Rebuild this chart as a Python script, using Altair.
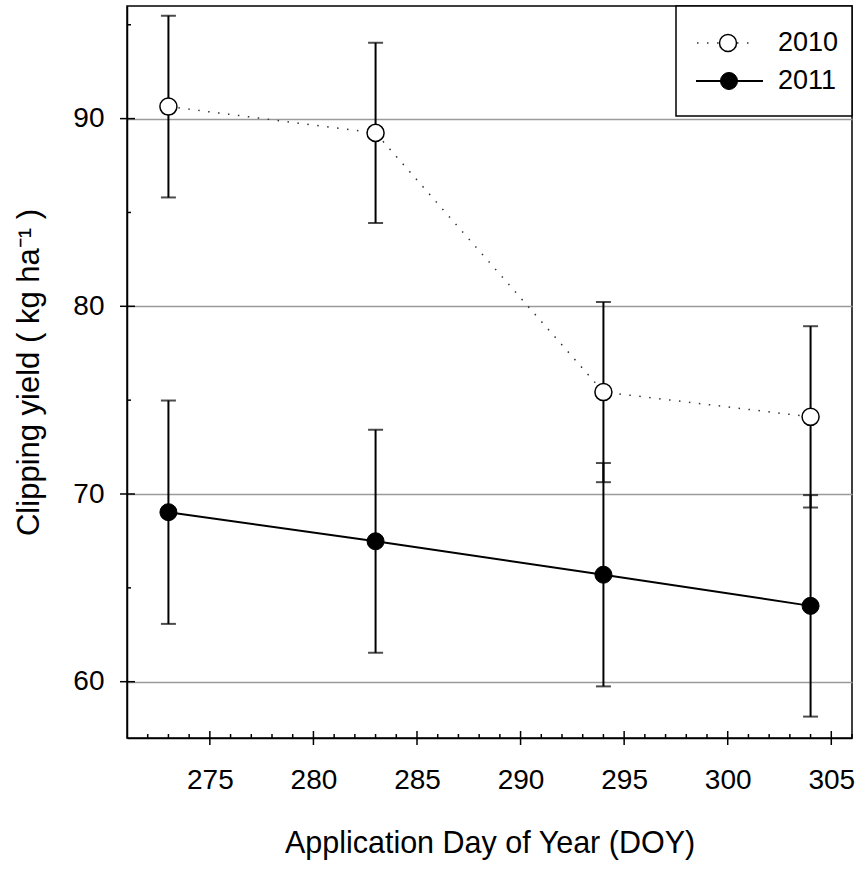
import altair as alt
import pandas as pd

# ---- data ----
doy = [273, 283, 294, 304]
yield_2010 = [90.64, 89.24, 75.43, 74.11]
err_2010 = [4.84, 4.80, 4.80, 4.83]
yield_2011 = [69.03, 67.48, 65.70, 64.04]
err_2011 = [5.95, 5.94, 5.95, 5.90]
years = ["2010", "2011"]

x_major = [275, 280, 285, 290, 295, 300, 305]
y_major = [60, 70, 80, 90]
y_minor = [65, 75, 85, 95]
x_minor = [d for d in range(272, 307) if d % 5 != 0]

W, H = 725, 732
FONT = "Liberation Sans Narrow, Arial Narrow, Liberation Sans, Arial"

rows = []
for year, ys, es in [("2010", yield_2010, err_2010), ("2011", yield_2011, err_2011)]:
    for d, v, e in zip(doy, ys, es):
        rows.append({"year": year, "doy": d, "y": v, "lo": v - e, "hi": v + e})
df = pd.DataFrame(rows)
d10 = df[df.year == "2010"]
d11 = df[df.year == "2011"]

xs = alt.Scale(domain=[271, 306], nice=False, zero=False)
ys_ = alt.Scale(domain=[57, 96], nice=False, zero=False)

base_axes = alt.Chart(pd.DataFrame({"doy": [271], "y": [57]})).mark_point(opacity=0).encode(
    x=alt.X("doy:Q", scale=xs, axis=alt.Axis(
        values=x_major, ticks=False, grid=False, labelFontSize=28, labelPadding=28,
        title="Application Day of Year (DOY)", titleFontSize=30.5, titlePadding=34,
        titleFontWeight="normal", labelFont=FONT, titleFont=FONT, labelColor="black",
        titleColor="black", domainColor="black", domainWidth=1.5)),
    y=alt.Y("y:Q", scale=ys_, axis=alt.Axis(
        values=y_major, ticks=False, grid=True, gridColor="#9a9a9a", gridWidth=1.3,
        labelFontSize=28, labelPadding=23, title="Clipping yield ( kg ha\u207b\u00b9 )",
        titleFontSize=31, titlePadding=27, titleFontWeight="normal", labelFont=FONT,
        titleFont=FONT, labelColor="black", titleColor="black",
        domainColor="black", domainWidth=1.5)),
)

tick_style = dict(color="black", strokeWidth=1.5)
xmaj = alt.Chart(pd.DataFrame({"t": x_major})).mark_rule(**tick_style).encode(
    x=alt.X("t:Q", scale=xs), y=alt.value(H - 7), y2=alt.value(H + 7))
xmin = alt.Chart(pd.DataFrame({"t": x_minor})).mark_rule(**tick_style).encode(
    x=alt.X("t:Q", scale=xs), y=alt.value(H - 4), y2=alt.value(H))
ymaj = alt.Chart(pd.DataFrame({"t": y_major})).mark_rule(**tick_style).encode(
    y=alt.Y("t:Q", scale=ys_), x=alt.value(-7), x2=alt.value(8))
ymin = alt.Chart(pd.DataFrame({"t": y_minor})).mark_rule(**tick_style).encode(
    y=alt.Y("t:Q", scale=ys_), x=alt.value(0), x2=alt.value(4))

err = alt.Chart(df).mark_rule(color="black", strokeWidth=2).encode(
    x=alt.X("doy:Q", scale=xs), y=alt.Y("lo:Q", scale=ys_), y2="hi:Q")
cap_lo = alt.Chart(df).mark_tick(color="black", orient="horizontal", size=15, thickness=2).encode(
    x=alt.X("doy:Q", scale=xs), y=alt.Y("lo:Q", scale=ys_))
cap_hi = alt.Chart(df).mark_tick(color="black", orient="horizontal", size=15, thickness=2).encode(
    x=alt.X("doy:Q", scale=xs), y=alt.Y("hi:Q", scale=ys_))

line10 = alt.Chart(d10).mark_line(color="#333333", strokeWidth=1.5, strokeDash=[1.5, 8.5]).encode(
    x=alt.X("doy:Q", scale=xs), y=alt.Y("y:Q", scale=ys_))
line11 = alt.Chart(d11).mark_line(color="black", strokeWidth=2).encode(
    x=alt.X("doy:Q", scale=xs), y=alt.Y("y:Q", scale=ys_))
pts10 = alt.Chart(d10).mark_point(shape="circle", filled=True, fill="white", stroke="black",
                                  strokeWidth=1.5, size=290, opacity=1).encode(
    x=alt.X("doy:Q", scale=xs), y=alt.Y("y:Q", scale=ys_))
pts11 = alt.Chart(d11).mark_point(shape="circle", filled=True, fill="black", stroke="black",
                                  strokeWidth=1, size=290, opacity=1).encode(
    x=alt.X("doy:Q", scale=xs), y=alt.Y("y:Q", scale=ys_))

# ---- legend ----
one = pd.DataFrame({"k": [0]})
leg_box = alt.Chart(one).mark_rect(fill="white", stroke="black", strokeWidth=1.5).encode(
    x=alt.value(549), x2=alt.value(725), y=alt.value(0), y2=alt.value(110))
legend_layers = [leg_box]
for i, yr in enumerate(years):
    yy = 37 + 38 * i
    if yr == "2010":
        ln = alt.Chart(one).mark_rule(color="#333333", strokeWidth=1.5, strokeDash=[1.5, 8.5]).encode(
            x=alt.value(570), x2=alt.value(630), y=alt.value(yy))
        pt = alt.Chart(one).mark_point(shape="circle", filled=True, fill="white", stroke="black",
                                       strokeWidth=1.5, size=290, opacity=1).encode(
            x=alt.value(601), y=alt.value(yy))
    else:
        ln = alt.Chart(one).mark_rule(color="black", strokeWidth=2).encode(
            x=alt.value(569), x2=alt.value(636), y=alt.value(yy))
        pt = alt.Chart(one).mark_point(shape="circle", filled=True, fill="black", stroke="black",
                                       strokeWidth=1, size=290, opacity=1).encode(
            x=alt.value(602), y=alt.value(yy))
    tx = alt.Chart(pd.DataFrame({"label": [yr]})).mark_text(
        align="left", baseline="middle", fontSize=27, font=FONT, color="black").encode(
        x=alt.value(651), y=alt.value(yy), text="label:N")
    legend_layers += [ln, pt, tx]

chart = alt.layer(
    base_axes, xmaj, xmin, ymaj, ymin, err, cap_lo, cap_hi,
    line10, line11, pts10, pts11, *legend_layers
).properties(
    width=W, height=H,
    autosize=alt.AutoSizeParams(type="none"),
    padding={"left": 127, "top": 6, "right": 7, "bottom": 132},
    background="white",
).configure_view(stroke="black", strokeWidth=1.5)

chart.save("out.html", embed_options={"renderer": "svg", "actions": False})
